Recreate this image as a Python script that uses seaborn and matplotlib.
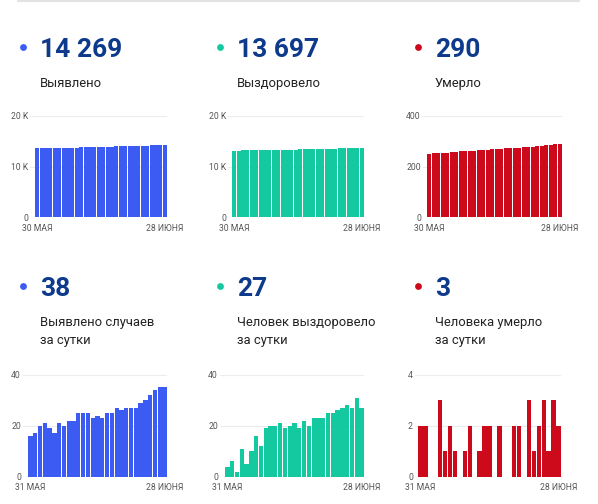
import numpy as np
import matplotlib
matplotlib.use("Agg")
import matplotlib.pyplot as plt
import seaborn as sns

sns.set_style("white")
plt.rcParams["font.family"] = ["Roboto", "DejaVu Sans"]

W, H = 598, 504

## Cumulative totals, 30 May .. 28 June
cases_total = [13550, 13566, 13583, 13603, 13624, 13643, 13660, 13681, 13701, 13723,
               13745, 13770, 13795, 13820, 13843, 13867, 13890, 13915, 13940, 13967,
               13993, 14020, 14047, 14074, 14103, 14133, 14165, 14199, 14234, 14269]
recovered_total = [13145, 13149, 13155, 13157, 13168, 13173, 13183, 13199, 13211, 13230,
                   13250, 13270, 13291, 13310, 13330, 13351, 13370, 13392, 13412, 13435,
                   13458, 13481, 13506, 13531, 13557, 13584, 13612, 13639, 13670, 13697]
deaths_total = [250, 252, 254, 254, 254, 257, 258, 260, 261, 261,
                262, 264, 264, 265, 267, 269, 269, 271, 271, 271,
                273, 275, 275, 278, 279, 281, 284, 285, 288, 290]

## Daily numbers, 31 May .. 28 June
cases_daily = [16, 17, 20, 21, 19, 17, 21, 20, 22, 22, 25, 25, 25, 23, 24,
               23, 25, 25, 27, 26, 27, 27, 27, 29, 30, 32, 34, 35, 35]
recovered_daily = [4, 6, 2, 11, 5, 10, 16, 12, 19, 20, 20, 21, 19, 20, 21,
                   19, 22, 20, 23, 23, 23, 25, 25, 26, 27, 28, 27, 31, 27]
deaths_daily = [2, 2, 0, 0, 3, 1, 2, 1, 0, 1, 2, 0, 1, 2, 2,
                0, 2, 0, 0, 2, 2, 0, 3, 1, 2, 3, 1, 3, 2]

## headline figures shown above each chart
headline_values = [14269, 13697, 290, 38, 27, 3]

total_dates = ["30 МАЯ", "28 ИЮНЯ"]
daily_dates = ["31 МАЯ", "28 ИЮНЯ"]

labels = ["Выявлено", "Выздоровело", "Умерло",
          "Выявлено случаев\nза сутки", "Человек выздоровело\nза сутки",
          "Человека умерло\nза сутки"]

BLUE, GREEN, RED = "#3b5bf3", "#14c8a0", "#cc0a1c"
NAVY = "#0e3a8c"

def fmt(v):
    return f"{v:,}".replace(",", " ")

fig = plt.figure(figsize=(W / 100, H / 100), dpi=100)

## overlay in pixel coords for headers
ov = fig.add_axes([0, 0, 1, 1], zorder=0)
ov.set_xlim(0, W)
ov.set_ylim(H, 0)
ov.axis("off")
ov.plot([18, 579], [1, 1], color="#e2e2e2", lw=1.5)

panels = [
    # data, colour, ticks, ticklabels, dates, (grid_left, bar_left, right, top, bottom), header (dot_x, y_num)
    (cases_total, BLUE, [0, 10000, 20000], ["0", "10 K", "20 K"], total_dates, (30, 35, 167, 115.7, 217.3), (23, 57)),
    (recovered_total, GREEN, [0, 10000, 20000], ["0", "10 K", "20 K"], total_dates, (228, 232, 364, 115.7, 217.3), (220, 57)),
    (deaths_total, RED, [0, 200, 400], ["0", "200", "400"], total_dates, (423, 427, 562, 115.7, 217.3), (418, 57)),
    (cases_daily, BLUE, [0, 20, 40], ["0", "20", "40"], daily_dates, (23, 28, 167, 374.7, 476.7), (23, 296)),
    (recovered_daily, GREEN, [0, 20, 40], ["0", "20", "40"], daily_dates, (220, 225, 364, 374.7, 476.7), (220, 296)),
    (deaths_daily, RED, [0, 2, 4], ["0", "2", "4"], daily_dates, (415, 418, 561, 374.7, 476.7), (418, 296)),
]

for i, (vals, col, yt, ytl, dates, box, head) in enumerate(panels):
    gl, bl, r, t, b = box
    ax = fig.add_axes([gl / W, 1 - b / H, (r - gl) / W, (b - t) / H], zorder=1)
    n = len(vals)
    sns.barplot(x=np.arange(n), y=vals, color=col, saturation=1, width=0.9,
                linewidth=0, errorbar=None, ax=ax)
    pitch = (r - bl) / n
    ax.set_xlim(-0.5 - (bl - gl) / pitch, n - 0.5)
    ax.set_ylim(0, yt[-1])
    ax.set_yticks(yt)
    ax.set_yticklabels(ytl)
    ax.set_xticks([0, n - 1])
    ax.set_xticklabels(dates)
    ax.set_xlabel("")
    ax.set_ylabel("")
    ax.tick_params(axis="y", length=0, pad=1.5, labelsize=6.2, labelcolor="#555555")
    ax.tick_params(axis="x", length=0, pad=4.5, labelsize=6.2, labelcolor="#555555")
    ax.grid(axis="y", color="#ececec", lw=0.8)
    ax.grid(axis="x", visible=False)
    ax.set_axisbelow(True)
    for s in ax.spines.values():
        s.set_visible(False)
    ax.patch.set_alpha(0)

    # header: dot, big number, caption
    dx, ybase = head
    ov.scatter([dx], [ybase - 10], s=24, color=col, linewidths=0)
    ov.text(dx + 17, ybase, fmt(headline_values[i]), fontsize=19, fontweight="bold",
            color=NAVY, va="baseline", ha="left")
    for j, line in enumerate(labels[i].split("\n")):
        ov.text(dx + 17, ybase + 30 + j * 17.6, line, fontsize=9.4,
                color="#222222", va="baseline", ha="left")

fig.savefig("out.png", dpi=100)
